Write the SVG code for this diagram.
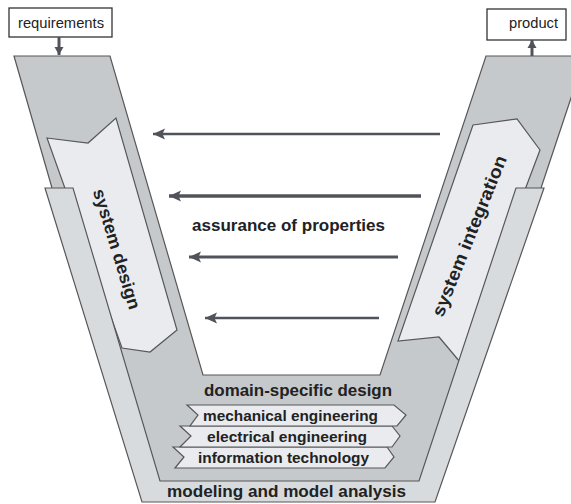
<svg xmlns="http://www.w3.org/2000/svg" width="571" height="504" viewBox="0 0 571 504">
<style>
.dark{fill:#c6c9cb;stroke:#575757;stroke-width:1.2;stroke-linejoin:miter}
.light{fill:#d8dbde;stroke:#575757;stroke-width:1.2}
.pale{fill:#e9ebef;stroke:#575757;stroke-width:1.2}
.box{fill:#ffffff;stroke:#333333;stroke-width:1.3}
.t{font-family:"Liberation Sans",Arial,Helvetica,sans-serif;fill:#222222}
.b{font-weight:bold}
.arr{stroke:#50545a;fill:none}
</style>
<defs>
<marker id="ah" markerUnits="userSpaceOnUse" markerWidth="14" markerHeight="12" refX="12" refY="6" orient="auto">
<path d="M0,0.5 L12,6 L0,11.5 L2.5,6 z" fill="#50545a"/>
</marker>
<marker id="ahs" markerUnits="userSpaceOnUse" markerWidth="10" markerHeight="10" refX="8" refY="5" orient="auto">
<path d="M0,0.5 L8,5 L0,9.5 z" fill="#50545a"/>
</marker>
</defs>

<g id="v-body">
<polygon class="dark" points="14,56 110,56 203,375 380,375 486,56 585,56 541,188 430,490 150,490 52,188"/>
</g>

<g id="system-design">
<polygon class="pale" points="47,138 88,143 116,118 177,330 150,352 122,348"/>
<text class="t b" font-size="17.5" text-anchor="middle" dy="0.35em" transform="translate(117,249) rotate(73)" textLength="125" lengthAdjust="spacingAndGlyphs">system design</text>
</g>

<g id="system-integration">
<polygon class="pale" points="473,125 517,119 540,150 460,362 439,337 398,341"/>
<text class="t b" font-size="18" text-anchor="middle" dy="0.35em" transform="translate(469,236) rotate(-68)" textLength="172" lengthAdjust="spacingAndGlyphs">system integration</text>
</g>

<g id="modeling">
<polygon class="light" points="45,188 73,188 160,481 419,481 516,188 544,188 435,502 142,502"/>
<text class="t b" font-size="17" x="286.5" y="497" text-anchor="middle" textLength="239" lengthAdjust="spacingAndGlyphs">modeling and model analysis</text>
</g>

<g id="domain-specific-design">
<text class="t b" font-size="16" x="298" y="396" text-anchor="middle" textLength="188" lengthAdjust="spacingAndGlyphs">domain-specific design</text>
<g id="information-technology">
<polygon class="pale" points="173,447 387,447 394,457 385,468 175,468 184,457"/>
<text class="t b" font-size="15" x="283.5" y="463" text-anchor="middle" textLength="171" lengthAdjust="spacingAndGlyphs">information technology</text>
</g>
<g id="electrical-engineering">
<polygon class="pale" points="180,426 392,426 400,436 392,447 180,447 191,436"/>
<text class="t b" font-size="15" x="287" y="442" text-anchor="middle" textLength="160" lengthAdjust="spacingAndGlyphs">electrical engineering</text>
</g>
<g id="mechanical-engineering">
<polygon class="pale" points="187,405 394,405 406,415 397,426 190,426 198,415"/>
<text class="t b" font-size="15" x="290.5" y="421" text-anchor="middle" textLength="175" lengthAdjust="spacingAndGlyphs">mechanical engineering</text>
</g>
</g>

<g id="requirements">
<rect class="box" x="9" y="8" width="103" height="29"/>
<text class="t" font-size="14" x="61" y="28" text-anchor="middle" textLength="86" lengthAdjust="spacingAndGlyphs">requirements</text>
</g>

<g id="product">
<rect class="box" x="487" y="9" width="79" height="31"/>
<text class="t" font-size="14" x="533.5" y="28" text-anchor="middle" textLength="49" lengthAdjust="spacingAndGlyphs">product</text>
</g>

<g id="assurance-label">
<text class="t b" font-size="16" x="288.5" y="231" text-anchor="middle" textLength="193" lengthAdjust="spacingAndGlyphs">assurance of properties</text>
</g>

<g id="connectors">
<line class="arr" x1="59" y1="37" x2="59" y2="55" stroke-width="3" marker-end="url(#ahs)"/>
<line class="arr" x1="532" y1="56" x2="532" y2="40" stroke-width="3" marker-end="url(#ahs)"/>
<line class="arr" x1="440" y1="134" x2="153" y2="134" stroke-width="2.4" marker-end="url(#ah)"/>
<line class="arr" x1="421" y1="196" x2="169" y2="196" stroke-width="3.6" marker-end="url(#ah)"/>
<line class="arr" x1="398" y1="257" x2="189" y2="257" stroke-width="3.2" marker-end="url(#ah)"/>
<line class="arr" x1="379" y1="318" x2="205" y2="318" stroke-width="2.4" marker-end="url(#ah)"/>
</g>
</svg>
